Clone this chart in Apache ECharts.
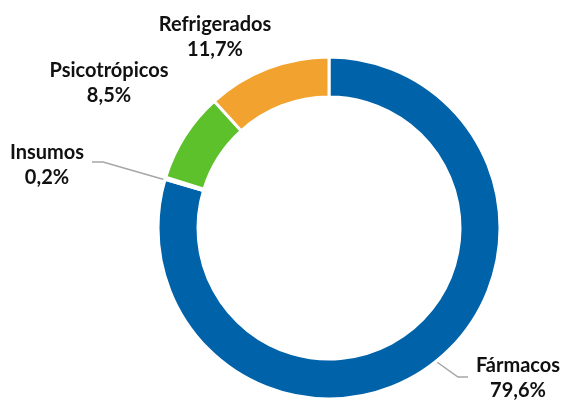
<!DOCTYPE html>
<html>
<head>
    <meta charset="utf-8">
    <title>Distribución</title>
    <script src="https://cdn.jsdelivr.net/npm/echarts@6/dist/echarts.min.js"></script>
    <style>
        html, body { margin: 0; padding: 0; background: #fff; }
    </style>
</head>
<body>
<div id="main" style="width: 563px;height:401px;"></div>
<script type="text/javascript">
    var categorias = ['Fármacos', 'Insumos', 'Psicotrópicos', 'Refrigerados'];
    var porcentajes = [79.6, 0.2, 8.5, 11.7];
    var colores = ['#0062A9', '#ffffff', '#5DC12B', '#F2A22F'];

    // posiciones de las etiquetas (como en el gráfico de Excel)
    var etiquetas = [
        { x: 518, y: 378, linea: [[420, 350], [458, 377], [468, 377]] },
        { x: 47, y: 165, linea: [[183, 185], [103, 162], [92, 162]] },
        { x: 109, y: 83 },
        { x: 215, y: 37 }
    ];

    var myChart = echarts.init(document.getElementById('main'));

    var datos = [];
    for (var i = 0; i < categorias.length; i++) {
        datos.push({
            name: categorias[i],
            value: porcentajes[i],
            itemStyle: { color: colores[i] },
            labelLine: { show: !!etiquetas[i].linea }
        });
    }

    option = {
        animation: false,
        series: [{
            type: 'pie',
            center: [329, 228],
            radius: [131, 171],
            startAngle: 90,
            clockwise: true,
            avoidLabelOverlap: false,
            itemStyle: { borderColor: '#fff', borderWidth: 3 },
            label: {
                show: true,
                position: 'outside',
                color: '#111',
                fontFamily: 'Lato',
                fontWeight: 'bold',
                fontSize: 20,
                lineHeight: 25,
                align: 'center',
                formatter: function (p) {
                    return p.name + '\n' + p.value.toFixed(1).replace('.', ',') + '%';
                }
            },
            labelLine: {
                show: true,
                lineStyle: { color: '#A6A6A6', width: 1.5 }
            },
            labelLayout: function (p) {
                var e = etiquetas[p.dataIndex];
                var r = { x: e.x, y: e.y, align: 'center', verticalAlign: 'middle' };
                if (e.linea) r.labelLinePoints = e.linea;
                return r;
            },
            data: datos
        }]
    };

    myChart.setOption(option);
</script>
</body>
</html>
